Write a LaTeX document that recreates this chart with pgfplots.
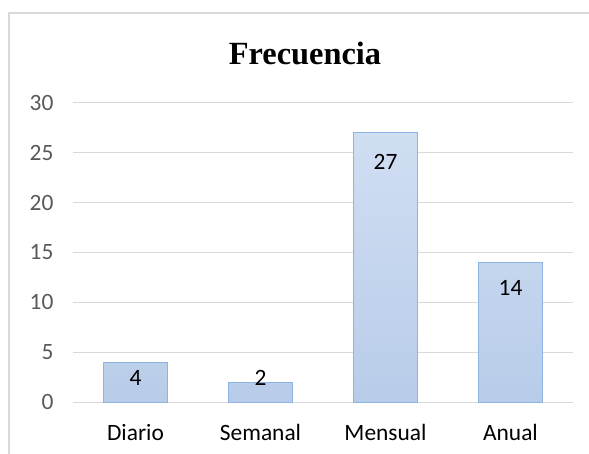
\documentclass[border=0pt]{standalone}
\usepackage{fontspec}
\setmainfont{Carlito}
\newfontfamily\titlefont{Liberation Serif}
\usepackage{pgfplots}
\pgfplotsset{compat=1.18}
\definecolor{gridgray}{RGB}{217,217,217}
\definecolor{ticktext}{RGB}{89,89,89}
\definecolor{bartop}{RGB}{208,222,242}
\definecolor{barbot}{RGB}{184,204,233}
\definecolor{baredge}{RGB}{141,179,226}

\begin{document}
\begin{tikzpicture}
\begin{axis}[
    at={(0,0)}, anchor=south west,
    scale only axis, width=500bp, height=299bp,
    xmin=-0.5, xmax=3.5, ymin=0, ymax=30,
    xtick={0,1,2,3},
    xticklabels={Diario,Semanal,Mensual,Anual},
    ytick={0,5,10,15,20,25,30},
    ymajorgrids, grid style={gridgray, line width=1bp},
    axis line style={draw=none},
    major tick length=0pt,
    /pgf/number format/assume math mode=true,
    ticklabel style={font=\fontsize{23.5}{27}\selectfont},
    yticklabel style={text=ticktext, anchor=east, xshift=-16bp},
    xticklabel style={text=black, anchor=north, yshift=-19bp},
    clip=false,
]
\addplot[ybar, bar width=64bp, draw=baredge, line width=1bp,
    top color=bartop, bottom color=barbot] coordinates {
    (0,4) (1,2) (2,27) (3,14)
};
\addplot[only marks, mark=none, nodes near coords,
    point meta=explicit symbolic,
    nodes near coords style={anchor=center, font=\fontsize{23.5}{27}\selectfont, text=black}]
    coordinates {
    (0,2.4) [4]
    (1,2.4) [2]
    (2,24.1) [27]
    (3,11.4) [14]
};
\end{axis}
\node[font=\titlefont\bfseries\fontsize{32.5}{38}\selectfont] at (232bp,349bp) {Frecuencia};
\draw[gridgray, line width=1.2bp] (-64bp,-60bp) -- (-64bp,389bp) -- (520bp,389bp);
\pgfresetboundingbox
\path[use as bounding box] (-73bp,-52bp) rectangle (516bp,402bp);
\end{tikzpicture}
\end{document}
